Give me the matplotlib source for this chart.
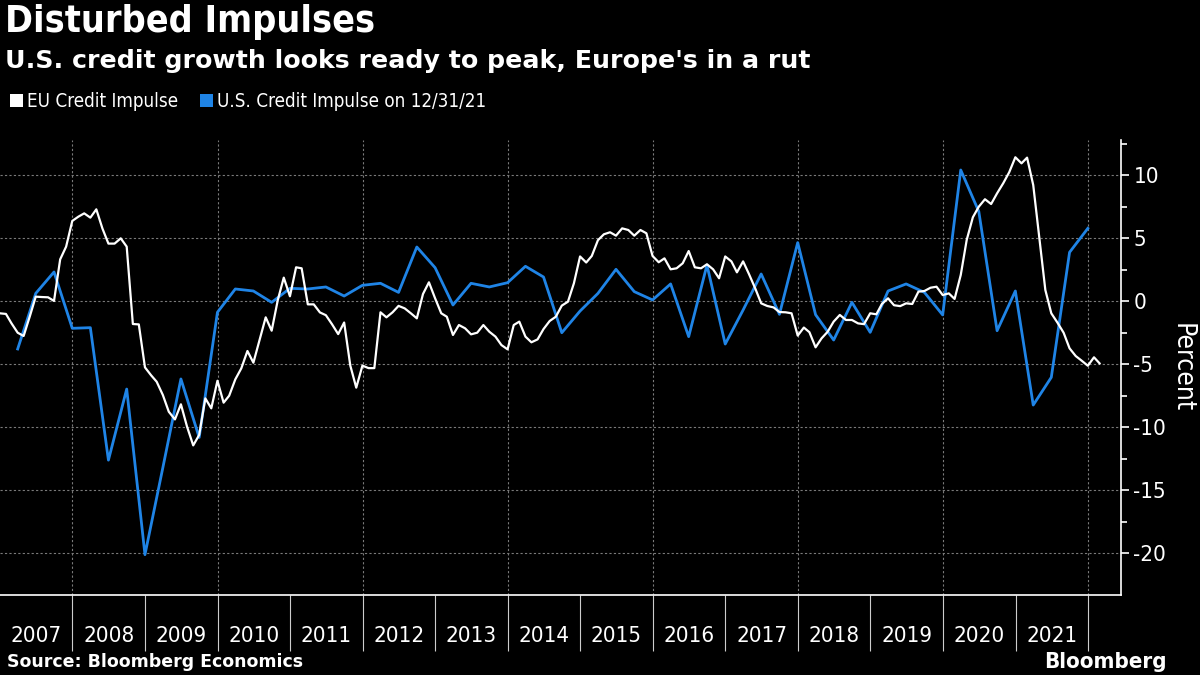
import matplotlib
matplotlib.use("Agg")
import matplotlib.pyplot as plt
from matplotlib.patches import Patch
import pandas as pd

# EU credit impulse, monthly, from Dec 2006 to Feb 2022
eu_values = [
    -0.95, -1.0, -1.75, -2.49, -2.75, -1.2, 0.37, 0.34, 0.32, 0.03,
    3.33, 4.34, 6.38, 6.72, 6.98, 6.64, 7.30, 5.77, 4.58, 4.58,
    5.0, 4.34, -1.80, -1.83, -5.24, -5.87, -6.38, -7.43, -8.76, -9.37,
    -8.17, -9.95, -11.43, -10.6, -7.7, -8.49, -6.30, -8.04, -7.49, -6.19,
    -5.32, -3.94, -4.87, -3.07, -1.27, -2.33, 0.11, 1.88, 0.40, 2.70,
    2.62, -0.24, -0.24, -0.88, -1.1, -1.82, -2.6, -1.68, -5.1, -6.85,
    -5.1, -5.3, -5.3, -0.87, -1.27, -0.87, -0.36, -0.56, -0.95, -1.35,
    0.58, 1.51, 0.24, -0.95, -1.22, -2.67, -1.88, -2.14, -2.62, -2.49,
    -1.88, -2.41, -2.80, -3.47, -3.81, -1.88, -1.61, -2.80, -3.25, -3.02,
    -2.2, -1.56, -1.22, -0.34, -0.03, 1.43, 3.56, 3.08, 3.60, 4.85,
    5.32, 5.48, 5.21, 5.79, 5.66, 5.21, 5.66, 5.40, 3.60, 3.10,
    3.41, 2.54, 2.62, 3.02, 3.99, 2.70, 2.62, 2.94, 2.54, 1.83,
    3.56, 3.17, 2.30, 3.17, 2.15, 1.03, -0.16, -0.37, -0.48, -0.85,
    -0.87, -0.95, -2.72, -2.08, -2.45, -3.65, -2.94, -2.41, -1.61, -1.08,
    -1.48, -1.48, -1.75, -1.81, -0.95, -1.03, -0.21, 0.24, -0.31, -0.38,
    -0.16, -0.21, 0.77, 0.82, 1.08, 1.16, 0.50, 0.63, 0.19, 2.09,
    4.87, 6.67, 7.51, 8.10, 7.72, 8.57, 9.37, 10.24, 11.43, 10.95,
    11.40, 9.23, 5.13, 0.90, -0.95, -1.69, -2.49, -3.73, -4.34, -4.71,
    -5.11, -4.44, -4.92,
]
eu_dates = pd.date_range("2006-12-31", periods=len(eu_values), freq="ME")

# U.S. credit impulse, quarterly, Q1 2007 to Q4 2021
us_values = [
    -3.78, 0.63, 2.33, -2.14, -2.09, -12.6, -6.96, -20.1, -13.2, -6.16,
    -10.8, -0.87, 0.98, 0.82, -0.08, 1.03, 0.98, 1.14, 0.42, 1.27,
    1.43, 0.71, 4.31, 2.67, -0.29, 1.43, 1.14, 1.48, 2.78, 1.93,
    -2.49, -0.77, 0.63, 2.54, 0.77, 0.11, 1.38, -2.80, 2.88, -3.39,
    -0.69, 2.17, -1.03, 4.66, -1.06, -3.07, -0.08, -2.46, 0.82, 1.38,
    0.71, -1.08, 10.42, 7.12, -2.33, 0.82, -8.23, -6.03, 3.89, 5.79,
]
us_dates = pd.date_range("2007-03-31", periods=len(us_values), freq="QE")

years = list(range(2007, 2022))
y_ticks = [-20, -15, -10, -5, 0, 5, 10]

blue = "#1f84e6"
grid_col = "#7a7a7a"

plt.rcParams["font.family"] = ["DejaVu Sans"]
plt.rcParams["font.stretch"] = "condensed"

fig = plt.figure(figsize=(12, 6.75), dpi=100, facecolor="black")
ax = fig.add_axes([0.0, 1 - 595 / 675, 1121 / 1200, 455 / 675])
ax.set_facecolor("black")

ax.plot(eu_dates, eu_values, color="white", lw=1.6, zorder=3)
ax.plot(us_dates, us_values, color=blue, lw=2.0, zorder=2)

ax.set_xlim(pd.Timestamp("2007-01-01"), pd.Timestamp("2022-06-16"))
ax.set_ylim(-23.3, 12.8)

# grid
for v in y_ticks:
    ax.axhline(v, color=grid_col, lw=0.8, ls=(0, (2, 2)), zorder=1)
for yr in range(2008, 2023, 2):
    ax.axvline(pd.Timestamp(f"{yr}-01-01"), color=grid_col, lw=0.8, ls=(0, (2, 2)), zorder=1)

# spines
for s in ["top", "left"]:
    ax.spines[s].set_visible(False)
for s in ["right", "bottom"]:
    ax.spines[s].set_color("white")
    ax.spines[s].set_linewidth(1.2)

# y axis on the right
ax.yaxis.tick_right()
ax.set_yticks(y_ticks)
ax.set_yticks([v + 2.5 for v in y_ticks], minor=True)
ax.set_yticklabels([str(v) for v in y_ticks])
ax.tick_params(axis="y", which="major", colors="white", labelcolor="white",
               labelsize=16, length=6, width=1.2, pad=3)
ax.tick_params(axis="y", which="minor", colors="white", length=4, width=1.2)
ax.yaxis.set_label_position("right")
ax.set_ylabel("Percent", color="white", fontsize=19, rotation=270, labelpad=20)

# x axis: year separators as major ticks, labels on mid-year minor ticks
ax.set_xticks([pd.Timestamp(f"{y}-01-01") for y in years[1:]] + [pd.Timestamp("2022-01-01")])
ax.set_xticklabels([])
ax.set_xticks([pd.Timestamp(f"{y}-07-02") for y in years], minor=True)
ax.set_xticklabels([str(y) for y in years], minor=True)
ax.tick_params(axis="x", which="major", colors="#cccccc", length=40, width=0.8)
ax.tick_params(axis="x", which="minor", length=0, labelcolor="white", labelsize=16, pad=22)

# titles
fig.text(0.004, 0.967, "Disturbed Impulses", color="white", fontsize=27,
         fontweight="bold", va="center")
fig.text(0.004, 0.91, "U.S. credit growth looks ready to peak, Europe's in a rut",
         color="white", fontsize=18.2, fontweight="bold", va="center", fontstretch="normal")

handles = [Patch(facecolor="white", edgecolor="none", label="EU Credit Impulse"),
           Patch(facecolor=blue, edgecolor="none", label="U.S. Credit Impulse on 12/31/21")]
leg = fig.legend(handles=handles, loc="center left", bbox_to_anchor=(0.005, 0.85), ncol=2,
                 frameon=False, fontsize=13.5, handlelength=0.7, handleheight=0.7,
                 handletextpad=0.2, columnspacing=1.2, borderaxespad=0, borderpad=0.2)
for t in leg.get_texts():
    t.set_color("white")

fig.text(0.006, 0.019, "Source: Bloomberg Economics", color="white", fontsize=12.5,
         fontweight="bold", va="center", fontstretch="normal")
fig.text(0.972, 0.019, "Bloomberg", color="white", fontsize=16, fontweight="bold",
         va="center", ha="right")

fig.savefig("out.png", dpi=100, facecolor="black")
